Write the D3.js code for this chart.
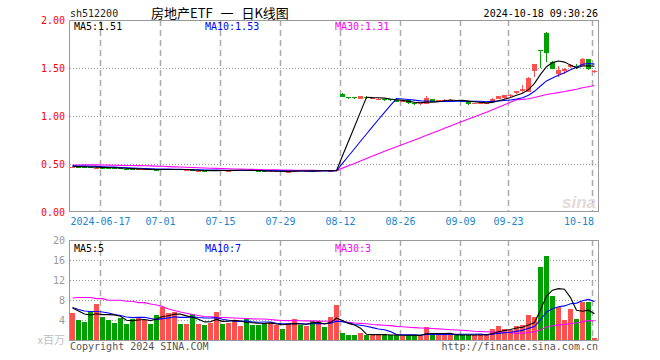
<!DOCTYPE html>
<html>
<head>
<meta charset="utf-8">
<script src="https://cdn.jsdelivr.net/npm/d3@7"></script>
<style>
  body { margin: 0; background: #fff; }
  text { font-family: "DejaVu Sans Mono", monospace; font-size: 10px; }
</style>
</head>
<body>
<div id="chart"></div>
<script>
// trading days shown (2024)
var dates = ["06-07","06-11","06-12","06-13","06-14","06-17","06-18","06-19","06-20","06-21",
  "06-24","06-25","06-26","06-27","06-28","07-01","07-02","07-03","07-04","07-05",
  "07-08","07-09","07-10","07-11","07-12","07-15","07-16","07-17","07-18","07-19",
  "07-22","07-23","07-24","07-25","07-26","07-29","07-30","07-31","08-01","08-02",
  "08-05","08-06","08-07","08-08","08-09","08-12","08-13","08-14","08-15","08-16",
  "08-19","08-20","08-21","08-22","08-23","08-26","08-27","08-28","08-29","08-30",
  "09-02","09-03","09-04","09-05","09-06","09-09","09-10","09-11","09-12","09-13",
  "09-18","09-19","09-20","09-23","09-24","09-25","09-26","09-27","09-30","10-08",
  "10-09","10-10","10-11","10-14","10-15","10-16","10-17","10-18"];

var open = [0.466,0.471,0.471,0.470,0.458, 0.463,0.461,0.460,0.456,0.452,
  0.449,0.441,0.442,0.443,0.442, 0.440,0.445,0.442,0.443,0.434,
  0.436,0.428,0.431,0.427,0.432, 0.437,0.430,0.431,0.434,0.438,
  0.433,0.428,0.425,0.421,0.423, 0.427,0.419,0.422,0.433,0.428,
  0.430,0.427,0.433,0.429,0.428,
  1.230,1.198,1.198,1.180,1.198, 1.184,1.175,1.180,1.174,1.163,
  1.150,1.162,1.140,1.122,1.128, 1.172,1.150,1.158,1.160,1.165,
  1.160,1.150,1.125,1.130,1.128, 1.146,1.180,1.186,1.215,1.240,
  1.258,1.252,1.470,1.692,1.865, 1.560,1.440,1.470,1.510,1.525,
  1.525,1.592,1.458];

var high = [0.472,0.473,0.472,0.471,0.464, 0.465,0.462,0.462,0.457,0.454,
  0.450,0.448,0.446,0.444,0.445, 0.448,0.450,0.447,0.444,0.438,
  0.437,0.434,0.432,0.436,0.440, 0.438,0.434,0.437,0.439,0.439,
  0.434,0.429,0.426,0.428,0.427, 0.428,0.423,0.434,0.435,0.433,
  0.431,0.431,0.434,0.432,0.435,
  1.235,1.202,1.200,1.212,1.208, 1.192,1.186,1.182,1.176,1.166,
  1.162,1.165,1.142,1.138,1.205, 1.175,1.168,1.172,1.176,1.168,
  1.162,1.153,1.140,1.138,1.140, 1.185,1.212,1.222,1.228,1.262,
  1.320,1.402,1.545,1.692,1.870, 1.570,1.520,1.500,1.540,1.545,
  1.600,1.595,1.480];

var low = [0.464,0.466,0.467,0.464,0.456, 0.458,0.455,0.455,0.449,0.448,
  0.440,0.439,0.440,0.436,0.437, 0.439,0.443,0.440,0.436,0.432,
  0.424,0.426,0.415,0.426,0.431, 0.431,0.429,0.430,0.433,0.432,
  0.426,0.422,0.420,0.420,0.421, 0.422,0.417,0.421,0.428,0.427,
  0.425,0.426,0.429,0.428,0.427,
  1.198,1.180,1.180,1.178,1.182, 1.178,1.172,1.160,1.158,1.148,
  1.146,1.128,1.118,1.112,1.120, 1.145,1.146,1.150,1.156,1.152,
  1.148,1.118,1.120,1.125,1.125, 1.140,1.176,1.182,1.200,1.228,
  1.240,1.250,1.410,1.500,1.565, 1.485,1.410,1.440,1.500,1.490,
  1.520,1.480,1.450];

var close = [0.470,0.468,0.469,0.466,0.462, 0.460,0.458,0.457,0.451,0.449,
  0.443,0.446,0.444,0.438,0.440, 0.446,0.448,0.444,0.438,0.436,
  0.428,0.432,0.425,0.434,0.436, 0.433,0.432,0.435,0.437,0.434,
  0.428,0.424,0.422,0.426,0.425, 0.424,0.421,0.432,0.430,0.431,
  0.428,0.430,0.432,0.431,0.433,
  1.200,1.188,1.185,1.210,1.190, 1.186,1.182,1.165,1.162,1.150,
  1.153,1.132,1.122,1.132,1.184, 1.148,1.165,1.165,1.168,1.160,
  1.155,1.125,1.137,1.134,1.135, 1.178,1.208,1.218,1.222,1.258,
  1.278,1.398,1.545,1.688,1.660, 1.490,1.480,1.490,1.530,1.515,
  1.592,1.485,1.470];

// volume, x百万
var volume = [5.47,4.0,3.67,5.8,7.27, 4.6,4.0,3.47,4.4,3.27,
  4.2,4.6,4.0,3.27,5.0, 6.6,5.4,5.6,3.27,3.27,
  5.27,3.27,3.0,3.47,5.6, 3.27,3.47,3.8,2.87,4.13,
  3.0,3.0,3.47,3.47,3.0, 2.27,3.47,4.2,3.0,2.8,
  3.8,3.8,2.6,4.6,7.0,
  1.4,1.0,1.0,1.4,1.0, 1.0,1.0,1.0,1.0,1.0,
  0.8,1.0,1.0,0.8,2.67, 1.0,1.0,1.0,1.0,1.0,
  1.0,1.0,1.0,1.0,1.3, 2.2,2.8,2.2,2.0,2.8,
  3.0,5.0,4.6,14.6,16.8, 8.8,6.6,4.0,6.2,4.2,
  7.7,7.7,0.4];

// MA values before a full window exists
var ma5Head = [0.476,0.473,0.471,0.469];
var ma10Head = [0.480,0.479,0.478,0.477,0.475,0.472,0.469,0.467,0.464];
var ma30Head = [0.490,0.490,0.491,0.492,0.491,0.489,0.488,0.487,0.486,0.485,
  0.484,0.483,0.482,0.480,0.478,0.476,0.473,0.470,0.468,0.466,
  0.463,0.461,0.458,0.456,0.454,0.452,0.450,0.448,0.447];
var vma5Head = [6.4,5.8,5.2,5.0];
var vma10Head = [6.5,6.1,5.8,5.7,5.7,5.6,5.4,5.1,4.9];
var vma30Head = [8.4,8.5,8.5,8.5,8.27,8.27,7.95,7.95,7.95,7.75,
  7.75,7.47,7.47,7.2,7.0,6.7,6.2,5.9,5.6,5.35,
  5.1,4.9,4.7,4.65,4.55,4.5,4.45,4.4,4.35];

var tickDates = ["06-17","07-01","07-15","07-29","08-12","08-26","09-09","09-23","10-18"];
var tickLabels = ["2024-06-17","07-01","07-15","07-29","08-12","08-26","09-09","09-23","10-18"];
var priceTicks = [0, 0.5, 1, 1.5, 2];
var volTicks = [4, 8, 12, 16, 20];
var maLabels = ["MA5:1.51", "MA10:1.53", "MA30:1.31"];
var vmaLabels = ["MA5:5", "MA10:7", "MA30:3"];
var maColors = ["#000000", "#0000ff", "#ff00ff"];

var W = 660, H = 360;
var left = 70, right = 598;
var pTop = 20, pBottom = 212, vTop = 240, vBottom = 340;
var red = "#ff5050", green = "#00a000";

var svg = d3.select("#chart").append("svg")
  .attr("width", W).attr("height", H);
svg.append("rect").attr("width", W).attr("height", H).attr("fill", "#fff");

// moving average, using head values until the window is full
function movingAvg(values, n, head) {
  return values.map(function(v, i) {
    if (i < n - 1) return head[i];
    return d3.mean(values.slice(i - n + 1, i + 1));
  });
}

var x = d3.scaleBand().domain(dates).range([left, right])
  .paddingInner(1 / 6).paddingOuter(1 / 12).align(0);
var y = d3.scaleLinear().domain([0, 2]).range([pBottom, pTop]);
var yv = d3.scaleLinear().domain([0, 20]).range([vBottom, vTop]);

var bw = x.bandwidth();
var rows = dates.map(function(d, i) {
  return { date: d, o: open[i], h: high[i], l: low[i], c: close[i], v: volume[i], up: close[i] >= open[i] };
});

// vertical dashed grid
var grid = svg.append("g");
tickDates.forEach(function(d) {
  var gx = x(d) + 0.5;
  [[pTop, pBottom], [vTop, vBottom]].forEach(function(r) {
    grid.append("line")
      .attr("x1", gx).attr("x2", gx).attr("y1", r[0]).attr("y2", r[1])
      .attr("stroke", "#aaa").attr("stroke-width", 1.5)
      .attr("stroke-dasharray", "6,4");
  });
});
// horizontal dotted grid
[0.5, 1, 1.5].forEach(function(t) {
  grid.append("line")
    .attr("x1", left).attr("x2", right).attr("y1", Math.round(y(t)) + 0.5).attr("y2", Math.round(y(t)) + 0.5)
    .attr("stroke", "#999").attr("stroke-dasharray", "1,2");
});
[4, 8, 12, 16].forEach(function(t) {
  grid.append("line")
    .attr("x1", left).attr("x2", right).attr("y1", Math.round(yv(t)) + 0.5).attr("y2", Math.round(yv(t)) + 0.5)
    .attr("stroke", "#999").attr("stroke-dasharray", "1,2");
});

// watermark
svg.append("text").attr("x", 596).attr("y", 208).attr("text-anchor", "end")
  .style("font-family", "Liberation Sans, sans-serif").style("font-size", "17px")
  .style("font-style", "italic").style("font-weight", "bold")
  .attr("fill", "#e6dada").text("sina");

// candles
var candles = svg.append("g").attr("shape-rendering", "crispEdges");
candles.selectAll(".wick").data(rows).enter().append("rect")
  .attr("x", function(d) { return x(d.date) + 2; })
  .attr("y", function(d) { return Math.round(y(d.h)); })
  .attr("width", 1)
  .attr("height", function(d) { return Math.max(1, Math.round(y(d.l)) - Math.round(y(d.h))); })
  .attr("fill", function(d) { return d.up ? red : green; });
candles.selectAll(".body").data(rows).enter().append("rect")
  .attr("x", function(d) { return x(d.date); })
  .attr("y", function(d) { return Math.round(y(Math.max(d.o, d.c))); })
  .attr("width", bw)
  .attr("height", function(d) { return Math.max(1, Math.round(y(Math.min(d.o, d.c))) - Math.round(y(Math.max(d.o, d.c)))); })
  .attr("fill", function(d) { return d.up ? red : green; });

// volume bars
svg.append("g").attr("shape-rendering", "crispEdges")
  .selectAll("rect").data(rows).enter().append("rect")
  .attr("x", function(d) { return x(d.date); })
  .attr("y", function(d) { return Math.round(yv(d.v)); })
  .attr("width", bw)
  .attr("height", function(d) { return vBottom - Math.round(yv(d.v)); })
  .attr("fill", function(d) { return d.up ? red : green; });

// MA lines
var priceMA = [movingAvg(close, 5, ma5Head), movingAvg(close, 10, ma10Head), movingAvg(close, 30, ma30Head)];
var volMA = [movingAvg(volume, 5, vma5Head), movingAvg(volume, 10, vma10Head), movingAvg(volume, 30, vma30Head)];

var linePrice = d3.line()
  .x(function(d, i) { return x(dates[i]) + bw / 2; })
  .y(function(d) { return y(d); });
var lineVol = d3.line()
  .x(function(d, i) { return x(dates[i]) + bw / 2; })
  .y(function(d) { return yv(d); });

[2, 1, 0].forEach(function(k) {
  svg.append("path").attr("d", linePrice(priceMA[k]))
    .attr("fill", "none").attr("stroke", maColors[k]).attr("stroke-width", 1.1);
  svg.append("path").attr("d", lineVol(volMA[k]))
    .attr("fill", "none").attr("stroke", maColors[k]).attr("stroke-width", 1.1);
});

// panel borders
svg.append("rect").attr("x", left - 0.5).attr("y", pTop + 0.5)
  .attr("width", right - left + 1).attr("height", pBottom - pTop - 1)
  .attr("fill", "none").attr("stroke", "#999");
svg.append("rect").attr("x", left - 0.5).attr("y", vTop + 0.5)
  .attr("width", right - left + 1).attr("height", vBottom - vTop)
  .attr("fill", "none").attr("stroke", "#999");

// y axes
var pAxis = svg.append("g").attr("transform", "translate(" + (left - 1) + ",0)")
  .call(d3.axisLeft(y).tickValues(priceTicks).tickFormat(d3.format(".2f")).tickSize(0).tickPadding(4));
pAxis.select(".domain").remove();
pAxis.selectAll("text").attr("fill", "#ff0000")
  .style("font-family", "DejaVu Sans Mono, monospace").style("font-size", "10px");

var vAxis = svg.append("g").attr("transform", "translate(" + (left - 1) + ",0)")
  .call(d3.axisLeft(yv).tickValues(volTicks).tickSize(0).tickPadding(4));
vAxis.select(".domain").remove();
vAxis.selectAll("text").attr("fill", "#999")
  .style("font-family", "DejaVu Sans Mono, monospace").style("font-size", "10px");

// date labels
tickDates.forEach(function(d, i) {
  var last = i === tickDates.length - 1;
  svg.append("text")
    .attr("x", last ? x(d) + 2 : x(d) + 0.5)
    .attr("y", 225)
    .attr("text-anchor", last ? "end" : "middle")
    .attr("fill", "#1a86d0")
    .text(tickLabels[i]);
});

// MA labels
var maX = [74, 205, 335];
maLabels.forEach(function(t, i) {
  svg.append("text").attr("x", maX[i]).attr("y", 30).attr("fill", maColors[i]).text(t);
});
vmaLabels.forEach(function(t, i) {
  svg.append("text").attr("x", maX[i]).attr("y", 252).attr("fill", maColors[i]).text(t);
});

// header
svg.append("text").attr("x", 70).attr("y", 17).attr("fill", "#222").text("sh512200");
svg.append("text").attr("x", 151).attr("y", 18)
  .style("font-family", "Noto Sans CJK SC, sans-serif").style("font-size", "13px")
  .style("word-spacing", "5px")
  .attr("fill", "#000").text("房地产ETF 一 日K线图");
svg.append("text").attr("x", 598).attr("y", 17).attr("text-anchor", "end")
  .attr("fill", "#000").text("2024-10-18 09:30:26");

// footer
svg.append("text").attr("x", 65).attr("y", 344).attr("text-anchor", "end")
  .style("font-family", "Noto Sans CJK SC, sans-serif").style("font-size", "11px")
  .attr("fill", "#c0c0c0").text("x百万");
svg.append("text").attr("x", 70).attr("y", 350).attr("fill", "#555").text("Copyright 2024 SINA.COM");
svg.append("text").attr("x", 598).attr("y", 350).attr("text-anchor", "end")
  .attr("fill", "#555").text("http://finance.sina.com.cn");
</script>
</body>
</html>
